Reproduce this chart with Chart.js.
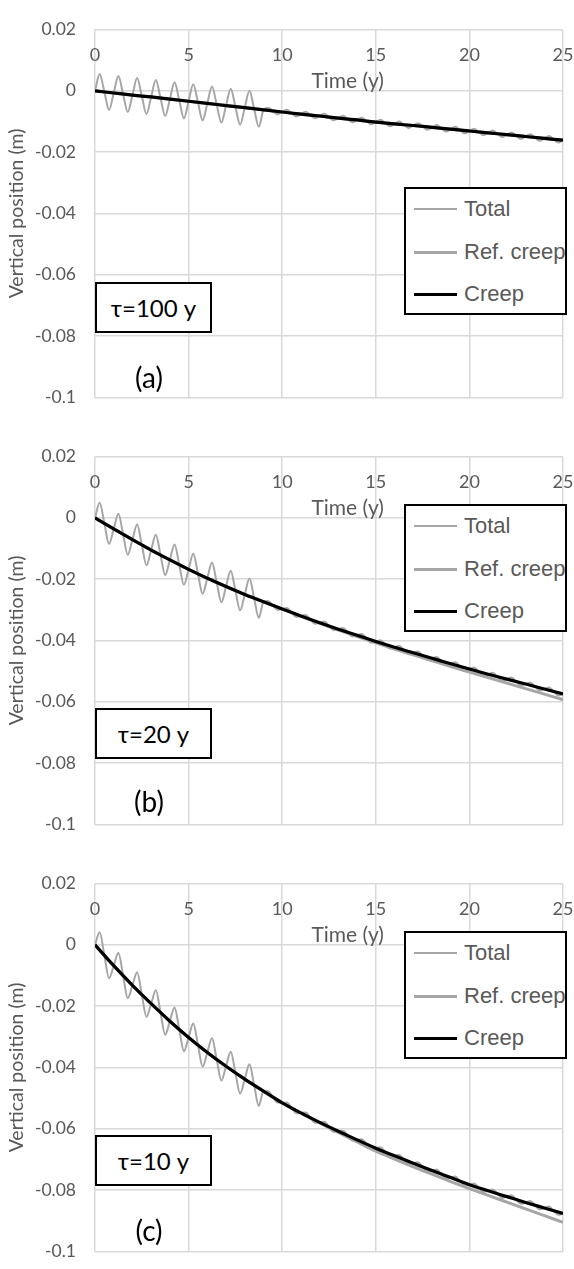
<!DOCTYPE html>
<html>
<head>
<meta charset="utf-8">
<script src="https://cdn.jsdelivr.net/npm/chart.js@4.4.1/dist/chart.umd.min.js"></script>
<style>
html,body{margin:0;padding:0;background:#fff;width:574px;height:1269px;overflow:hidden;}
.panel{position:absolute;left:0;width:574px;height:427px;}
.panel canvas{position:absolute;left:0;top:0;}
.legend{position:absolute;left:404px;width:163px;height:128px;box-sizing:border-box;border:2px solid #000;background:#fff;font-family:"Liberation Sans",Arial,sans-serif;font-size:22px;color:#595959;}
.legend .row{position:absolute;left:8px;height:30px;display:flex;align-items:center;white-space:nowrap;}
.legend .sw{display:inline-block;width:43px;height:0;margin-right:7px;}
.tau{position:absolute;left:95px;width:117px;height:51px;box-sizing:border-box;border:2px solid #000;background:#fff;font-family:Lato,"Open Sans","DejaVu Sans",sans-serif;font-size:24px;color:#000;display:flex;align-items:center;justify-content:center;}
.tag{position:absolute;font-family:Lato,"Open Sans",sans-serif;font-size:28px;color:#000;transform:translate(-50%,-50%);white-space:nowrap;}
</style>
</head>
<body>
<script>
// ---------- data ----------
const timeQ = [0,0.25,0.5,0.75,1,1.25,1.5,1.75,2,2.25,2.5,2.75,3,3.25,3.5,3.75,4,4.25,4.5,4.75,
5,5.25,5.5,5.75,6,6.25,6.5,6.75,7,7.25,7.5,7.75,8,8.25,8.5,8.75,9,9.25,9.5,9.75,
10,10.25,10.5,10.75,11,11.25,11.5,11.75,12,12.25,12.5,12.75,13,13.25,13.5,13.75,14,14.25,14.5,14.75,
15,15.25,15.5,15.75,16,16.25,16.5,16.75,17,17.25,17.5,17.75,18,18.25,18.5,18.75,19,19.25,19.5,19.75,
20,20.25,20.5,20.75,21,21.25,21.5,21.75,22,22.25,22.5,22.75,23,23.25,23.5,23.75,24,24.25,24.5,24.75,25];
const timeY = [0,1,2,3,4,5,6,7,8,9,10,11,12,13,14,15,16,17,18,19,20,21,22,23,24,25];

// (a) tau = 100 y
const totalA = [0,0.00552,-0.00035,-0.00623,
-0.0007,0.00482,-0.00105,-0.00693,
-0.0014,0.00415,-0.0017,-0.00755,
-0.002,0.00352,-0.00235,-0.00823,
-0.0027,0.00282,-0.00305,-0.00893,
-0.0034,0.00212,-0.00375,-0.00963,
-0.0041,0.00142,-0.00445,-0.01033,
-0.0048,0.00072,-0.00515,-0.01103,
-0.0055,0.00002,-0.00585,-0.01173,
-0.0062,-0.00548,-0.00655,-0.00763,
-0.0069,-0.00618,-0.00725,-0.00833,
-0.0076,-0.00685,-0.0079,-0.00895,
-0.0082,-0.00748,-0.00855,-0.00963,
-0.0089,-0.00815,-0.0092,-0.01025,
-0.0095,-0.00878,-0.00985,-0.01093,
-0.0102,-0.00945,-0.0105,-0.01155,
-0.0108,-0.01003,-0.01105,-0.01208,
-0.0113,-0.01055,-0.0116,-0.01265,
-0.0119,-0.01115,-0.0122,-0.01325,
-0.0125,-0.01175,-0.0128,-0.01385,
-0.0131,-0.01235,-0.0134,-0.01445,
-0.0137,-0.01295,-0.014,-0.01505,
-0.0143,-0.01355,-0.0146,-0.01565,
-0.0149,-0.01415,-0.0152,-0.01625,
-0.0155,-0.01475,-0.0158,-0.01685,
-0.0161];
const refA = [0,-0.0007,-0.0014,-0.002,-0.0027,-0.0034,-0.0041,-0.0048,-0.0055,-0.0062,-0.0069,-0.0076,-0.0082,-0.0089,-0.0095,-0.0102,-0.0108,-0.0113,-0.0119,-0.0125,-0.0131,-0.0137,-0.0143,-0.0149,-0.0155,-0.0161];
const creepA = [0,-0.0007,-0.0014,-0.002,-0.0027,-0.0034,-0.0041,-0.0048,-0.0055,-0.0062,-0.0069,-0.0076,-0.0082,-0.0089,-0.0095,-0.0102,-0.0108,-0.0113,-0.0119,-0.0125,-0.0131,-0.0137,-0.0143,-0.0149,-0.0155,-0.0161];

// (b) tau = 20 y
const totalB = [0,0.0049,-0.0018,-0.0085,
-0.0036,0.00132,-0.00535,-0.01203,
-0.0071,-0.00215,-0.0088,-0.01545,
-0.0105,-0.0055,-0.0121,-0.0187,
-0.0137,-0.00868,-0.01525,-0.02183,
-0.0168,-0.01173,-0.01825,-0.02478,
-0.0197,-0.01458,-0.02105,-0.02753,
-0.0224,-0.01725,-0.0237,-0.03015,
-0.025,-0.0198,-0.0262,-0.0326,
-0.0274,-0.02708,-0.02855,-0.03003,
-0.0297,-0.02938,-0.03085,-0.03233,
-0.032,-0.03165,-0.0331,-0.03455,
-0.0342,-0.03383,-0.03525,-0.03668,
-0.0363,-0.0359,-0.0373,-0.0387,
-0.0383,-0.0379,-0.0393,-0.0407,
-0.0403,-0.03988,-0.04125,-0.04263,
-0.0422,-0.04175,-0.0431,-0.04445,
-0.044,-0.04355,-0.0449,-0.04625,
-0.0458,-0.04535,-0.0467,-0.04805,
-0.0476,-0.04713,-0.04845,-0.04978,
-0.0493,-0.04883,-0.05015,-0.05148,
-0.051,-0.0505,-0.0518,-0.0531,
-0.0526,-0.0521,-0.0534,-0.0547,
-0.0542,-0.0537,-0.055,-0.0563,
-0.0558,-0.0553,-0.0566,-0.0579,
-0.0574];
const refB = [0,-0.0036,-0.0071,-0.0105,-0.0137,-0.0168,-0.0197,-0.0224,-0.025,-0.0274,-0.0297,-0.0321,-0.0344,-0.0366,-0.0387,-0.0408,-0.0428,-0.0447,-0.0466,-0.0485,-0.0503,-0.0521,-0.0539,-0.0557,-0.0575,-0.0593];
const creepB = [0,-0.0036,-0.0071,-0.0105,-0.0137,-0.0168,-0.0197,-0.0224,-0.025,-0.0274,-0.0297,-0.032,-0.0342,-0.0363,-0.0383,-0.0403,-0.0422,-0.044,-0.0458,-0.0476,-0.0493,-0.051,-0.0526,-0.0542,-0.0558,-0.0574];

// (c) tau = 10 y
const totalC = [0,0.0041,-0.0034,-0.0109,
-0.0068,-0.0026,-0.01,-0.0174,
-0.0132,-0.0089,-0.0162,-0.0235,
-0.0192,-0.01483,-0.02205,-0.02928,
-0.0249,-0.02043,-0.02755,-0.03468,
-0.0302,-0.02563,-0.03265,-0.03968,
-0.0351,-0.03043,-0.03735,-0.04428,
-0.0396,-0.03485,-0.0417,-0.04855,
-0.0438,-0.03898,-0.04575,-0.05253,
-0.0477,-0.04775,-0.0496,-0.05145,
-0.0515,-0.05143,-0.05315,-0.05488,
-0.0548,-0.05468,-0.05635,-0.05803,
-0.0579,-0.05773,-0.05935,-0.06098,
-0.0608,-0.0606,-0.0622,-0.0638,
-0.0636,-0.06338,-0.06495,-0.06653,
-0.0663,-0.06603,-0.06755,-0.06908,
-0.0688,-0.0685,-0.07,-0.0715,
-0.0712,-0.0709,-0.0724,-0.0739,
-0.0736,-0.07328,-0.07475,-0.07623,
-0.0759,-0.07558,-0.07705,-0.07853,
-0.0782,-0.0778,-0.0792,-0.0806,
-0.0802,-0.07978,-0.08115,-0.08253,
-0.0821,-0.08168,-0.08305,-0.08443,
-0.084,-0.08355,-0.0849,-0.08625,
-0.0858,-0.08535,-0.0867,-0.08805,
-0.0876];
const refC = [0,-0.0068,-0.0132,-0.0192,-0.0249,-0.0302,-0.0351,-0.0396,-0.0438,-0.0477,-0.0515,-0.0549,-0.0581,-0.0612,-0.0643,-0.0673,-0.0699,-0.0724,-0.0748,-0.0772,-0.0795,-0.0817,-0.0839,-0.0861,-0.0883,-0.0905];
const creepC = [0,-0.0068,-0.0132,-0.0192,-0.0249,-0.0302,-0.0351,-0.0396,-0.0438,-0.0477,-0.0515,-0.0548,-0.0579,-0.0608,-0.0636,-0.0663,-0.0688,-0.0712,-0.0736,-0.0759,-0.0782,-0.0802,-0.0821,-0.084,-0.0858,-0.0876];

const seriesNames = ['Total','Ref. creep','Creep'];
const xTickValues = [0,5,10,15,20,25];
const xTickLabels = ['0','5','10','15','20','25'];
const yTickValues = [0.02,0,-0.02,-0.04,-0.06,-0.08,-0.1];
const yTickLabels = ['0.02','0','-0.02','-0.04','-0.06','-0.08','-0.1'];
const xTitle = 'Time (y)';
const yTitle = 'Vertical position (m)';
const tauLabels = ['\u03C4=100 y','\u03C4=20 y','\u03C4=10 y'];
const tagLabels = ['(a)','(b)','(c)'];

// ---------- layout ----------
const panelTops = [0,427,854];
const legendTops = [187,77,77];
const tauTops = [282,281,281];
const tagCenters = [377,374,376];
const GRID = '#d9d9d9';
const TICKC = '#595959';

const xLabelsPlugin = {
  id: 'xlabels',
  afterDraw(chart) {
    const {ctx, chartArea, scales} = chart;
    const x = scales.x;
    ctx.save();
    ctx.fillStyle = TICKC;
    ctx.textAlign = 'center';
    ctx.textBaseline = 'middle';
    ctx.font = '18px Lato';
    xTickValues.forEach((v, i) => {
      ctx.fillText(xTickLabels[i], x.getPixelForValue(v), chartArea.top + 26);
    });
    ctx.font = '21px Lato';
    ctx.fillText(xTitle, x.getPixelForValue(13.5), chartArea.top + 52);
    ctx.restore();
  }
};

function pts(xs, ys) { return xs.map((t, i) => ({x: t, y: ys[i]})); }

function makePanel(idx, total, ref, creep) {
  const div = document.createElement('div');
  div.className = 'panel';
  div.style.top = panelTops[idx] + 'px';
  document.body.appendChild(div);
  const cv = document.createElement('canvas');
  cv.width = 574; cv.height = 427;
  cv.style.width = '574px'; cv.style.height = '427px';
  div.appendChild(cv);

  const chart = new Chart(cv, {
    type: 'line',
    data: {
      datasets: [
        {label: seriesNames[0], data: pts(timeQ, total), borderColor: '#a6a6a6', borderWidth: 2,
         pointRadius: 0, cubicInterpolationMode: 'monotone', order: 2, fill: false},
        {label: seriesNames[1], data: pts(timeY, ref), borderColor: '#a6a6a6', borderWidth: 3,
         pointRadius: 0, cubicInterpolationMode: 'monotone', order: 1, fill: false},
        {label: seriesNames[2], data: pts(timeY, creep), borderColor: '#000000', borderWidth: 3.2,
         pointRadius: 0, cubicInterpolationMode: 'monotone', order: 0, fill: false}
      ]
    },
    options: {
      responsive: false,
      animation: false,
      devicePixelRatio: 1,
      layout: {padding: {top: 14, right: 11, bottom: 22, left: 0}},
      plugins: {legend: {display: false}, tooltip: {enabled: false}},
      scales: {
        x: {
          type: 'linear', min: 0, max: 25,
          ticks: {display: false, stepSize: 5},
          grid: {color: GRID, lineWidth: 1.5, drawTicks: false},
          border: {display: false},
          afterFit(s) { s.height = 0; }
        },
        y: {
          type: 'linear', min: -0.1, max: 0.02,
          afterBuildTicks(s) { s.ticks = yTickValues.map(v => ({value: v})); },
          ticks: {
            color: TICKC, padding: 19, font: {family: 'Lato', size: 17.5},
            callback(v) {
              const i = yTickValues.findIndex(t => Math.abs(t - v) < 1e-9);
              return i >= 0 ? yTickLabels[i] : '';
            }
          },
          grid: {color: GRID, lineWidth: 1.5, drawTicks: false},
          border: {display: false},
          title: {display: true, text: yTitle, color: TICKC, font: {family: 'Lato', size: 19.5}, padding: {top: 5, bottom: 0}},
          afterFit(s) { s.width = 95; }
        }
      }
    },
    plugins: [xLabelsPlugin]
  });

  // legend built from the chart's datasets
  const lg = document.createElement('div');
  lg.className = 'legend';
  lg.style.top = legendTops[idx] + 'px';
  const rowCenters = [20, 63, 105];
  chart.data.datasets.forEach((ds, i) => {
    const row = document.createElement('div');
    row.className = 'row';
    row.style.top = (rowCenters[i] - 15) + 'px';
    const sw = document.createElement('span');
    sw.className = 'sw';
    sw.style.borderTop = ds.borderWidth + 'px solid ' + ds.borderColor;
    const tx = document.createElement('span');
    tx.textContent = ds.label;
    row.appendChild(sw); row.appendChild(tx);
    lg.appendChild(row);
  });
  div.appendChild(lg);

  const tau = document.createElement('div');
  tau.className = 'tau';
  tau.style.top = tauTops[idx] + 'px';
  tau.textContent = tauLabels[idx];
  div.appendChild(tau);

  const tag = document.createElement('div');
  tag.className = 'tag';
  tag.style.left = '149px';
  tag.style.top = tagCenters[idx] + 'px';
  tag.textContent = tagLabels[idx];
  div.appendChild(tag);
}

makePanel(0, totalA, refA, creepA);
makePanel(1, totalB, refB, creepB);
makePanel(2, totalC, refC, creepC);
</script>
</body>
</html>
